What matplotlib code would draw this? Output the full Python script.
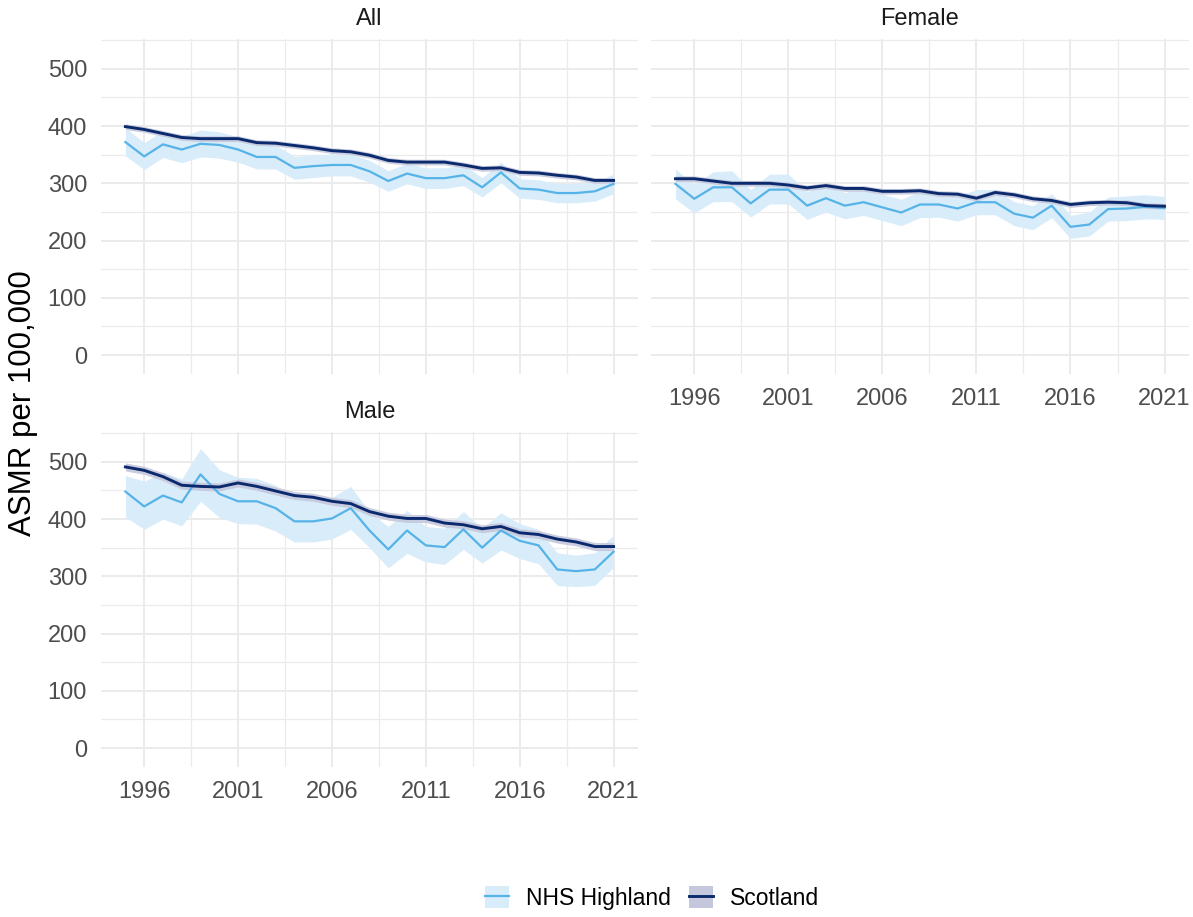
import matplotlib
matplotlib.use("Agg")
import matplotlib.pyplot as plt
from matplotlib.patches import Patch
from matplotlib.lines import Line2D
from matplotlib.ticker import MultipleLocator, FixedLocator

plt.rcParams["font.family"] = ["Liberation Sans", "DejaVu Sans"]

years = list(range(1995, 2022))

# ---- All ----
all_hb = [372, 347, 368, 359, 369, 367, 359, 346, 346, 327, 330, 332, 332, 321,
          304, 317, 309, 309, 314, 293, 319, 291, 289, 283, 283, 286, 299]
all_hb_lo = [348, 324, 345, 336, 346, 344, 337, 325, 325, 307, 310, 313, 313, 302,
             286, 299, 291, 291, 296, 276, 301, 274, 272, 266, 266, 269, 282]
all_hb_hi = [397, 371, 392, 382, 393, 390, 381, 367, 367, 347, 350, 351, 351, 340,
             322, 335, 327, 327, 332, 310, 337, 308, 306, 300, 300, 303, 316]
all_sc = [399, 394, 387, 380, 378, 378, 378, 371, 370, 366, 362, 357, 355, 349,
          340, 337, 337, 337, 332, 326, 327, 319, 318, 314, 311, 305, 305]
all_sc_lo = [394, 389, 382, 375, 373, 373, 373, 366, 365, 361, 357, 352, 350, 344,
             335, 332, 332, 332, 327, 321, 322, 314, 313, 309, 306, 300, 300]
all_sc_hi = [404, 399, 392, 385, 383, 383, 383, 376, 375, 371, 367, 362, 360, 354,
             345, 342, 342, 342, 337, 331, 332, 324, 323, 319, 316, 310, 310]

# ---- Female ----
fem_hb = [299, 273, 293, 293, 265, 289, 289, 261, 274, 261, 267, 258, 249, 263,
          263, 256, 267, 267, 247, 240, 261, 224, 228, 255, 256, 259, 257]
fem_hb_lo = [273, 248, 268, 268, 241, 264, 264, 237, 250, 238, 244, 235, 226, 240,
             241, 234, 245, 245, 226, 219, 240, 204, 208, 234, 235, 238, 237]
fem_hb_hi = [325, 298, 320, 322, 289, 316, 316, 285, 298, 284, 290, 281, 272, 286,
             285, 278, 289, 289, 268, 261, 282, 244, 250, 276, 278, 280, 277]
fem_sc = [308, 308, 304, 300, 300, 300, 297, 292, 296, 291, 291, 286, 286, 287,
          282, 281, 274, 284, 280, 273, 270, 263, 266, 267, 266, 261, 260]
fem_sc_lo = [303, 303, 299, 295, 295, 295, 292, 287, 291, 286, 286, 281, 281, 282,
             277, 276, 269, 279, 275, 268, 265, 258, 261, 262, 261, 256, 255]
fem_sc_hi = [313, 313, 309, 305, 305, 305, 302, 297, 301, 296, 296, 291, 291, 292,
             287, 286, 279, 289, 285, 278, 275, 268, 271, 272, 271, 266, 265]

# ---- Male ----
male_hb = [448, 422, 441, 429, 478, 444, 431, 431, 419, 396, 396, 401, 419, 380,
           347, 380, 354, 351, 382, 350, 380, 362, 354, 312, 309, 312, 343]
male_hb_lo = [404, 382, 400, 388, 431, 403, 392, 391, 379, 360, 360, 365, 382, 350,
              315, 340, 325, 321, 347, 323, 346, 331, 322, 284, 282, 284, 316]
male_hb_hi = [476, 466, 482, 470, 523, 486, 473, 471, 459, 438, 434, 438, 457, 412,
              387, 415, 387, 384, 413, 384, 411, 392, 382, 341, 337, 341, 372]
male_sc = [491, 485, 474, 459, 457, 456, 463, 457, 449, 441, 438, 431, 427, 413,
           405, 401, 401, 393, 390, 383, 387, 376, 373, 365, 360, 352, 352]
male_sc_lo = [484, 478, 467, 452, 450, 449, 456, 450, 442, 434, 431, 424, 420, 406,
              398, 394, 394, 386, 383, 376, 380, 369, 366, 358, 353, 345, 345]
male_sc_hi = [498, 492, 481, 466, 464, 463, 470, 464, 456, 448, 445, 438, 434, 420,
              412, 408, 408, 400, 397, 390, 394, 383, 380, 372, 367, 359, 359]

panel_names = ["All", "Female", "Male"]
series_names = ["NHS Highland", "Scotland"]
y_label = "ASMR per 100,000"

HB_LINE = "#55B3E8"
HB_FILL = "#D9ECFA"
SC_LINE = "#0B2A6E"
SC_FILL = "#C5C8DC"
GRID = "#EBEBEB"
TICK_COL = "#4D4D4D"

W, H = 1193, 917
fig = plt.figure(figsize=(W / 100, H / 100), dpi=100)


def px_axes(x0, x1, y0, y1):
    return fig.add_axes([x0 / W, 1 - y1 / H, (x1 - x0) / W, (y1 - y0) / H])


panels = [
    (panel_names[0], (101, 638, 39, 374), all_hb, all_hb_lo, all_hb_hi, all_sc, all_sc_lo, all_sc_hi, False, True),
    (panel_names[1], (651, 1189, 39, 374), fem_hb, fem_hb_lo, fem_hb_hi, fem_sc, fem_sc_lo, fem_sc_hi, True, False),
    (panel_names[2], (101, 638, 432, 767), male_hb, male_hb_lo, male_hb_hi, male_sc, male_sc_lo, male_sc_hi, True, True),
]

for name, box, hb, hb_lo, hb_hi, sc, sc_lo, sc_hi, show_x, show_y in panels:
    x0, x1, y0, y1 = box
    ax = px_axes(x0, x1, y0, y1)
    ax.set_xlim(1993.7, 2022.3)
    ax.set_ylim(-33, 552)
    ax.xaxis.set_major_locator(FixedLocator([1996, 2001, 2006, 2011, 2016, 2021]))
    ax.xaxis.set_minor_locator(FixedLocator([1998.5, 2003.5, 2008.5, 2013.5, 2018.5]))
    ax.yaxis.set_major_locator(MultipleLocator(100))
    ax.yaxis.set_minor_locator(FixedLocator([50, 150, 250, 350, 450, 550]))
    ax.grid(which="major", color=GRID, lw=1.4)
    ax.grid(which="minor", color=GRID, lw=0.9)
    ax.set_axisbelow(True)
    for s in ax.spines.values():
        s.set_visible(False)
    ax.tick_params(which="both", length=0)
    ax.tick_params(axis="x", pad=10, labelsize=17, labelcolor=TICK_COL,
                   labelbottom=show_x)
    ax.tick_params(axis="y", pad=10, labelsize=17, labelcolor=TICK_COL,
                   labelleft=show_y)

    ax.fill_between(years, hb_lo, hb_hi, color=HB_FILL, lw=0, zorder=2)
    ax.fill_between(years, sc_lo, sc_hi, color=SC_FILL, lw=0, alpha=0.9, zorder=3)
    ax.plot(years, hb, color=HB_LINE, lw=1.6, zorder=4)
    ax.plot(years, sc, color=SC_LINE, lw=2.1, zorder=5)

    fig.text((x0 + x1) / 2 / W, 1 - (y0 - 20) / H, name, ha="center", va="center",
             fontsize=17, color="#1A1A1A")

fig.text(23 / W, 1 - 403 / H, y_label, rotation=90, ha="center", va="center",
         fontsize=22.5, color="black")

handles = [
    (Patch(facecolor=HB_FILL, edgecolor="none"), Line2D([], [], color=HB_LINE, lw=1.6)),
    (Patch(facecolor=SC_FILL, edgecolor="none"), Line2D([], [], color=SC_LINE, lw=2.1)),
]
fig.legend(handles, series_names, loc="center", bbox_to_anchor=(652 / W, 1 - 898 / H),
           ncol=2, frameon=False, fontsize=16.5, handlelength=1.05, handleheight=1.1,
           handletextpad=0.75, columnspacing=0.8)

fig.savefig("out.png", dpi=100)
